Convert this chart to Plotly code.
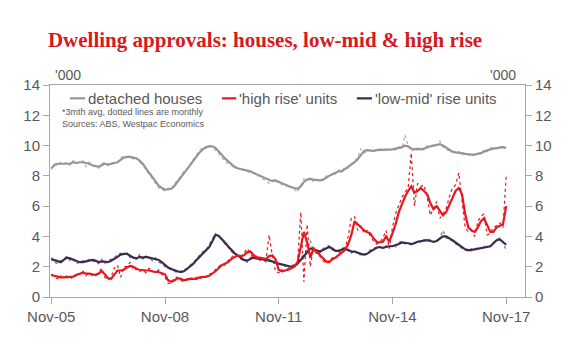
import pandas as pd
import plotly.graph_objects as go

# Monthly dates Nov-05 .. Nov-17
months = pd.date_range("2005-11-01", periods=145, freq="MS")

# detached houses, 3mth avg ('000)
houses_avg = [
    8.5, 8.7, 8.8, 8.8, 8.8, 8.85, 8.8, 8.9, 8.85, 8.9, 8.9, 8.85,
    8.8, 8.7, 8.65, 8.6, 8.7, 8.8, 8.75, 8.8, 8.8, 8.9, 9.05, 9.2,
    9.25, 9.25, 9.2, 9.15, 9.0, 8.8, 8.5, 8.2, 7.9, 7.6, 7.35, 7.2,
    7.1, 7.1, 7.15, 7.35, 7.6, 7.9, 8.15, 8.4, 8.7, 9.0, 9.3, 9.55,
    9.75, 9.9, 9.95, 9.95, 9.85, 9.65, 9.4, 9.15, 8.95, 8.75, 8.6, 8.5,
    8.45, 8.4, 8.35, 8.3, 8.2, 8.1, 8.0, 7.9, 7.8, 7.7, 7.65, 7.7,
    7.6, 7.5, 7.4, 7.3, 7.25, 7.2, 7.15, 7.3, 7.6, 7.75, 7.8, 7.75,
    7.7, 7.7, 7.75, 7.9, 8.0, 8.1, 8.2, 8.3, 8.3, 8.45, 8.55, 8.7,
    8.9, 9.1, 9.4, 9.65, 9.7, 9.65, 9.65, 9.7, 9.7, 9.7, 9.75, 9.75,
    9.75, 9.8, 9.85, 9.9, 10.0, 9.95, 9.8, 9.75, 9.8, 9.75, 9.8, 9.9,
    9.95, 10.0, 10.05, 10.1, 10.0, 9.85, 9.7, 9.6, 9.55, 9.55, 9.5, 9.45,
    9.4, 9.4, 9.4, 9.45, 9.5, 9.6, 9.7, 9.75, 9.8, 9.85, 9.9, 9.9, 9.85,
]
# detached houses, monthly
houses_m = [
    8.4, 8.8, 8.7, 8.9, 8.8, 8.9, 8.7, 9.0, 8.8, 8.9, 9.0, 8.6,
    8.9, 8.7, 8.6, 8.5, 8.8, 8.9, 8.7, 8.8, 8.9, 8.9, 9.2, 9.3,
    9.2, 9.3, 9.1, 9.2, 8.9, 8.7, 8.4, 8.1, 7.8, 7.5, 7.2, 7.1,
    7.0, 7.2, 7.1, 7.5, 7.7, 8.0, 8.3, 8.4, 8.8, 9.1, 9.4, 9.7,
    9.9, 9.8, 10.0, 9.9, 9.7, 9.5, 9.2, 9.0, 8.8, 8.7, 8.5, 8.5,
    8.4, 8.4, 8.3, 8.2, 8.2, 8.0, 8.0, 7.8, 7.7, 7.5, 7.7, 7.8,
    7.5, 7.4, 7.5, 7.2, 7.3, 7.1, 6.9, 7.4, 7.8, 7.7, 7.9, 7.6,
    7.7, 7.8, 7.7, 8.0, 7.9, 8.2, 8.1, 8.4, 8.3, 8.6, 8.5, 8.8,
    9.0, 9.2, 9.8, 9.5, 9.6, 9.7, 9.6, 9.7, 9.8, 9.6, 9.8, 9.7,
    9.8, 9.7, 9.9, 9.8, 10.7, 10.0, 9.6, 9.8, 9.7, 9.8, 9.7, 10.0,
    9.9, 10.1, 10.0, 10.3, 9.9, 9.8, 9.6, 9.6, 9.5, 9.6, 9.4, 9.5,
    9.4, 9.3, 9.4, 9.5, 9.4, 9.7, 9.6, 9.9, 9.8, 9.8, 10.0, 9.9, 9.8,
]
# 'high rise' units, 3mth avg
high_avg = [
    1.45, 1.4, 1.35, 1.3, 1.3, 1.3, 1.3, 1.35, 1.45, 1.55, 1.6, 1.55,
    1.55, 1.5, 1.45, 1.55, 1.7, 1.5, 1.25, 1.2, 1.45, 1.75, 1.75, 1.8,
    1.95, 2.05, 2.0, 1.85, 1.8, 1.75, 1.75, 1.75, 1.7, 1.65, 1.65, 1.6,
    1.5, 1.1, 1.0, 1.1, 1.25, 1.2, 1.1, 1.15, 1.2, 1.2, 1.2, 1.3,
    1.3, 1.35, 1.4, 1.55, 1.7, 1.9, 2.1, 2.2, 2.3, 2.5, 2.65, 2.75,
    2.7, 2.75, 2.95, 3.0, 2.8, 2.6, 2.6, 2.55, 2.5, 2.7, 2.75, 2.5,
    1.8, 1.7, 1.75, 1.8, 1.9, 2.0, 2.3, 3.4, 4.3, 3.6, 2.6, 3.2,
    3.0, 2.8, 2.6, 2.35, 2.3, 2.5, 2.6, 2.75, 2.9, 3.1, 3.5, 4.1,
    5.0, 4.8, 4.55, 4.4, 4.3, 4.2, 3.9, 3.65, 3.6, 3.65, 4.0, 3.65,
    4.2, 4.8, 5.6, 6.2, 6.6, 7.0, 7.3, 6.9, 7.0, 7.2, 7.0, 6.8,
    6.2, 5.8, 6.0, 5.7, 5.4, 5.6, 6.1, 6.6, 7.0, 7.2, 6.8, 5.5,
    4.6, 4.4, 4.3, 4.6, 5.0, 5.2, 4.7, 4.3, 4.3, 4.6, 4.7, 4.8, 6.0,
]
# 'high rise' units, monthly
high_m = [
    1.5, 1.3, 1.2, 1.4, 1.2, 1.4, 1.3, 1.2, 1.6, 1.5, 1.7, 1.4,
    1.6, 1.4, 1.5, 1.6, 1.9, 1.3, 1.1, 1.3, 1.9, 2.1, 1.3, 2.0,
    2.0, 2.3, 1.8, 1.9, 1.7, 1.8, 1.6, 1.9, 1.7, 1.6, 1.8, 1.5,
    1.3, 0.9, 0.9, 1.3, 1.3, 1.1, 1.0, 1.2, 1.3, 1.1, 1.3, 1.2,
    1.4, 1.3, 1.5, 1.6, 1.8, 2.0, 2.2, 2.1, 2.4, 2.6, 2.8, 2.7,
    2.6, 2.9, 3.2, 2.9, 2.6, 2.7, 2.5, 2.6, 2.4, 4.1, 2.7, 1.7,
    1.6, 1.8, 1.7, 1.9, 2.0, 2.2, 2.3, 5.6, 1.0, 4.8, 2.0, 3.3,
    2.8, 2.7, 2.4, 2.2, 2.4, 2.6, 2.5, 2.9, 3.0, 3.2, 4.0, 5.2,
    5.3, 4.4, 4.7, 4.2, 4.4, 4.0, 3.7, 3.5, 3.6, 3.9, 4.4, 3.2,
    4.6, 5.5, 6.0, 6.6, 6.9, 7.2, 9.5, 6.0, 7.5, 7.3, 7.4, 6.6,
    5.4, 5.9, 6.3, 5.2, 5.5, 5.8, 6.6, 7.2, 7.4, 8.2, 6.4, 4.6,
    4.3, 4.4, 4.0, 5.0, 5.3, 5.5, 4.1, 4.2, 4.6, 4.7, 4.9, 4.6, 8.0,
]
# 'low-mid' rise units, 3mth avg
low_avg = [
    2.5, 2.45, 2.35, 2.3, 2.45, 2.6, 2.55, 2.45, 2.35, 2.3, 2.3, 2.35,
    2.4, 2.45, 2.4, 2.3, 2.35, 2.3, 2.3, 2.4, 2.5, 2.65, 2.8, 2.85,
    2.85, 2.7, 2.6, 2.55, 2.65, 2.6, 2.65, 2.6, 2.55, 2.5, 2.45, 2.3,
    2.1, 1.95, 1.85, 1.75, 1.7, 1.65, 1.7, 1.85, 2.0, 2.2, 2.45, 2.65,
    2.85, 3.05, 3.3, 3.7, 4.1, 4.05, 3.85, 3.6, 3.35, 3.1, 2.9, 2.75,
    2.6, 2.45, 2.4, 2.5, 2.6, 2.55, 2.5, 2.45, 2.45, 2.4, 2.35, 2.3,
    2.2, 2.15, 2.1, 2.05, 2.0, 2.05, 2.2, 2.45, 2.7, 3.0, 3.2, 3.15,
    3.05, 3.0, 3.1, 3.2, 3.3, 3.2, 3.05, 3.05, 3.1, 3.2, 3.1, 3.0,
    3.0, 2.9, 2.85, 2.8, 2.85, 3.0, 3.15, 3.25, 3.3, 3.25, 3.3, 3.35,
    3.35, 3.4, 3.5, 3.6, 3.6, 3.55, 3.5, 3.55, 3.65, 3.7, 3.75, 3.75,
    3.7, 3.65, 3.7, 3.85, 4.0, 4.0, 3.9, 3.75, 3.6, 3.45, 3.3, 3.15,
    3.1, 3.1, 3.15, 3.2, 3.25, 3.3, 3.3, 3.35, 3.55, 3.75, 3.8, 3.65, 3.45,
]
# 'low-mid' rise units, monthly
low_m = [
    2.6, 2.3, 2.2, 2.4, 2.5, 2.7, 2.4, 2.5, 2.2, 2.3, 2.4, 2.3,
    2.5, 2.4, 2.3, 2.2, 2.5, 2.2, 2.4, 2.5, 2.6, 2.8, 2.9, 2.8,
    2.9, 2.6, 2.6, 2.5, 2.8, 2.5, 2.7, 2.6, 2.4, 2.6, 2.3, 2.2,
    2.0, 1.9, 1.8, 1.7, 1.6, 1.7, 1.8, 1.9, 2.1, 2.3, 2.5, 2.8,
    3.0, 3.1, 3.5, 3.9, 4.2, 4.0, 3.8, 3.5, 3.3, 3.0, 2.8, 2.7,
    2.5, 2.4, 2.3, 2.6, 2.7, 2.5, 2.4, 2.5, 2.3, 2.5, 2.3, 2.2,
    2.2, 2.1, 2.0, 2.1, 1.9, 2.1, 2.3, 2.6, 2.8, 3.1, 3.7, 3.0,
    3.1, 2.9, 3.2, 3.3, 3.4, 3.1, 3.0, 3.1, 3.2, 3.3, 3.0, 2.9,
    3.1, 2.8, 2.8, 2.7, 2.9, 3.1, 3.2, 3.3, 3.3, 3.2, 3.4, 3.3,
    3.4, 3.3, 3.6, 3.7, 3.5, 3.6, 3.4, 3.6, 3.7, 3.6, 3.8, 3.7,
    3.8, 3.6, 3.7, 3.9, 4.4, 3.9, 3.8, 3.7, 3.5, 3.4, 3.2, 3.1,
    3.0, 3.2, 3.1, 3.3, 3.2, 3.4, 3.2, 3.4, 3.6, 3.8, 3.9, 3.6, 3.1,
]

y_ticks = [0, 2, 4, 6, 8, 10, 12, 14]
x_ticks = ["2005-11-01", "2008-11-01", "2011-11-01", "2014-11-01", "2017-11-01"]
x_tick_labels = ["Nov-05", "Nov-08", "Nov-11", "Nov-14", "Nov-17"]
legend_names = ["detached houses", "'high rise' units", "'low-mid' rise units"]

GREY = "#959595"
GREY_D = "#B0B0B0"
RED = "#E5171F"
PURP = "#3E2A4C"
PURP_D = "#7F7088"
AX = "#A6A6A6"
TXT = "#595959"
FONT = "Liberation Sans, Arial, sans-serif"

fig = go.Figure()
# dotted monthly
fig.add_trace(go.Scatter(x=months, y=houses_m, mode="lines",
                         line=dict(color=GREY_D, width=1.2, dash="dot")))
fig.add_trace(go.Scatter(x=months, y=low_m, mode="lines",
                         line=dict(color=PURP_D, width=1.2, dash="dot")))
fig.add_trace(go.Scatter(x=months, y=high_m, mode="lines",
                         line=dict(color=RED, width=1.2, dash="dot")))
# solid 3mth avg
fig.add_trace(go.Scatter(x=months, y=low_avg, mode="lines",
                         line=dict(color=PURP, width=2.2)))
fig.add_trace(go.Scatter(x=months, y=high_avg, mode="lines",
                         line=dict(color=RED, width=2.2)))
fig.add_trace(go.Scatter(x=months, y=houses_avg, mode="lines",
                         line=dict(color=GREY, width=2.2)))
# invisible trace on right axis
fig.add_trace(go.Scatter(x=months, y=houses_avg, yaxis="y2", mode="lines",
                         line=dict(width=0), opacity=0, hoverinfo="skip"))

axis_common = dict(range=[0, 14], tickvals=y_ticks, ticks="outside", ticklen=6,
                   tickcolor=AX, showline=True, linecolor=AX, linewidth=1,
                   showgrid=False, zeroline=False,
                   tickfont=dict(family=FONT, size=15, color=TXT))

fig.update_layout(
    width=580, height=352,
    margin=dict(l=50, r=55, t=85, b=55),
    paper_bgcolor="white", plot_bgcolor="white",
    showlegend=False,
    font=dict(family=FONT, color=TXT),
    title=dict(text="Dwelling approvals: houses, low-mid & high rise",
               x=0.457, xanchor="center", y=0.887, yanchor="middle",
               font=dict(family="Liberation Serif, Times New Roman, serif",
                         size=21, color="#D71920", weight="bold")),
    xaxis=dict(range=["2005-10-20", "2018-05-01"], tickvals=x_ticks,
               ticktext=x_tick_labels, ticks="outside", ticklen=6,
               tickcolor=AX, showline=True, linecolor=AX, mirror=True,
               showgrid=False, zeroline=False,
               tickfont=dict(family=FONT, size=15, color=TXT)),
    yaxis=dict(**axis_common),
    yaxis2=dict(overlaying="y", side="right", **axis_common),
)

# manual legend
leg_y = 0.937
leg = [(0.042, 0.074, GREY), (0.362, 0.392, RED), (0.646, 0.678, PURP)]
for (x0, x1, c), name in zip(leg, legend_names):
    fig.add_shape(type="line", xref="paper", yref="paper", x0=x0, x1=x1,
                  y0=leg_y, y1=leg_y, line=dict(color=c, width=2.2))
    fig.add_annotation(xref="paper", yref="paper", x=x1 + 0.002, y=leg_y,
                       xanchor="left", yanchor="middle", showarrow=False,
                       text=name, font=dict(family=FONT, size=15, color=TXT))

fig.add_annotation(xref="paper", yref="paper", x=0.02, y=0.845,
                   xanchor="left", yanchor="middle", showarrow=False, align="left",
                   text="*3mth avg, dotted lines are monthly<br>Sources: ABS, Westpac Economics",
                   font=dict(family=FONT, size=9, color=TXT))
fig.add_annotation(xref="paper", yref="paper", x=0.006, y=1.0, yshift=10,
                   xanchor="left", yanchor="middle", showarrow=False,
                   text="'000", font=dict(family=FONT, size=14, color=TXT))
fig.add_annotation(xref="paper", yref="paper", x=0.985, y=1.0, yshift=10,
                   xanchor="right", yanchor="middle", showarrow=False,
                   text="'000", font=dict(family=FONT, size=14, color=TXT))

fig.write_html("out.html")
